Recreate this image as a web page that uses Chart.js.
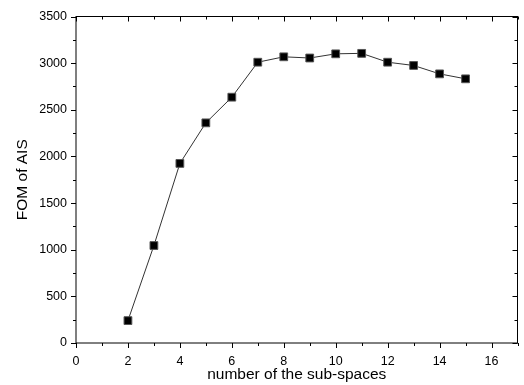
<!DOCTYPE html>
<html>
<head>
<meta charset="utf-8">
<script src="https://cdn.jsdelivr.net/npm/chart.js@4/dist/chart.umd.min.js"></script>
<style>
  body { margin: 0; background: #fff; }
  canvas { display: block; }
</style>
</head>
<body>
<canvas id="fomChart" width="524" height="385"></canvas>
<script>
// values
const subSpaces = [2, 3, 4, 5, 6, 7, 8, 9, 10, 11, 12, 13, 14, 15];
const fomValues = [240, 1045, 1925, 2360, 2635, 3010, 3068, 3055, 3100, 3105, 3010, 2975, 2885, 2832];
const xTickLabels = [0, 2, 4, 6, 8, 10, 12, 14, 16];
const yTickLabels = [0, 500, 1000, 1500, 2000, 2500, 3000, 3500];

const fontFamily = "'Liberation Sans', Arial, sans-serif";

// Origin-style frame with major/minor ticks (inward on top/right)
const frameTicks = {
  id: "frameTicks",
  afterDraw(chart) {
    const ctx = chart.ctx;
    const a = chart.chartArea;
    const xs = chart.scales.x;
    const ys = chart.scales.y;
    ctx.save();
    ctx.strokeStyle = "#000";
    ctx.lineWidth = 1;
    ctx.strokeRect(a.left, a.top, a.right - a.left, a.bottom - a.top);
    ctx.beginPath();
    for (let v = xs.min; v <= xs.max; v += 1) {
      const px = Math.round(xs.getPixelForValue(v)) + 0.5;
      const len = v % 2 === 0 ? 5 : 3;
      ctx.moveTo(px, a.bottom);
      ctx.lineTo(px, a.bottom + len);
      ctx.moveTo(px, a.top);
      ctx.lineTo(px, a.top + len);
    }
    for (let v = ys.min; v <= ys.max; v += 250) {
      const py = Math.round(ys.getPixelForValue(v)) + 0.5;
      const len = v % 500 === 0 ? 5 : 3;
      ctx.moveTo(a.left - len, py);
      ctx.lineTo(a.left, py);
      ctx.moveTo(a.right - len, py);
      ctx.lineTo(a.right, py);
    }
    ctx.stroke();
    ctx.restore();
  },
};

const ctx = document.getElementById("fomChart").getContext("2d");
const fomChart = new Chart(ctx, {
  type: "line",
  data: {
    datasets: [
      {
        data: subSpaces.map((x, i) => ({ x: x, y: fomValues[i] })),
        borderColor: "#333",
        borderWidth: 1,
        pointStyle: "rect",
        pointRadius: 5.5,
        pointBackgroundColor: "#000",
        pointBorderColor: "#555",
        pointBorderWidth: 1,
        tension: 0,
      },
    ],
  },
  options: {
    responsive: false,
    animation: false,
    events: [],
    layout: { padding: { top: 15, right: 2, left: 0, bottom: 0 } },
    plugins: { legend: { display: false }, tooltip: { enabled: false } },
    scales: {
      x: {
        type: "linear",
        min: 0,
        max: 17,
        afterBuildTicks: (scale) => {
          scale.ticks = xTickLabels.map((v) => ({ value: v }));
        },
        afterFit: (scale) => {
          scale.height = 42;
        },
        grid: { display: false, drawTicks: false },
        border: { display: false },
        ticks: {
          padding: 11,
          maxRotation: 0,
          color: "#000",
          callback: (v) => String(v),
          font: { family: fontFamily, size: 12.5 },
        },
        title: {
          display: true,
          text: "number of the sub-spaces",
          color: "#000",
          padding: { top: 0, bottom: 1 },
          font: { family: fontFamily, size: 15.5 },
        },
      },
      y: {
        min: 0,
        max: 3500,
        afterBuildTicks: (scale) => {
          scale.ticks = yTickLabels.map((v) => ({ value: v }));
        },
        afterFit: (scale) => {
          scale.width = 76;
        },
        grid: { display: false, drawTicks: false },
        border: { display: false },
        ticks: {
          padding: 9,
          color: "#000",
          callback: (v) => String(v),
          font: { family: fontFamily, size: 12.5 },
        },
        title: {
          display: true,
          text: "FOM of AIS",
          color: "#000",
          padding: { top: 13, bottom: 0 },
          font: { family: fontFamily, size: 15.5 },
        },
      },
    },
  },
  plugins: [frameTicks],
});
</script>
</body>
</html>
